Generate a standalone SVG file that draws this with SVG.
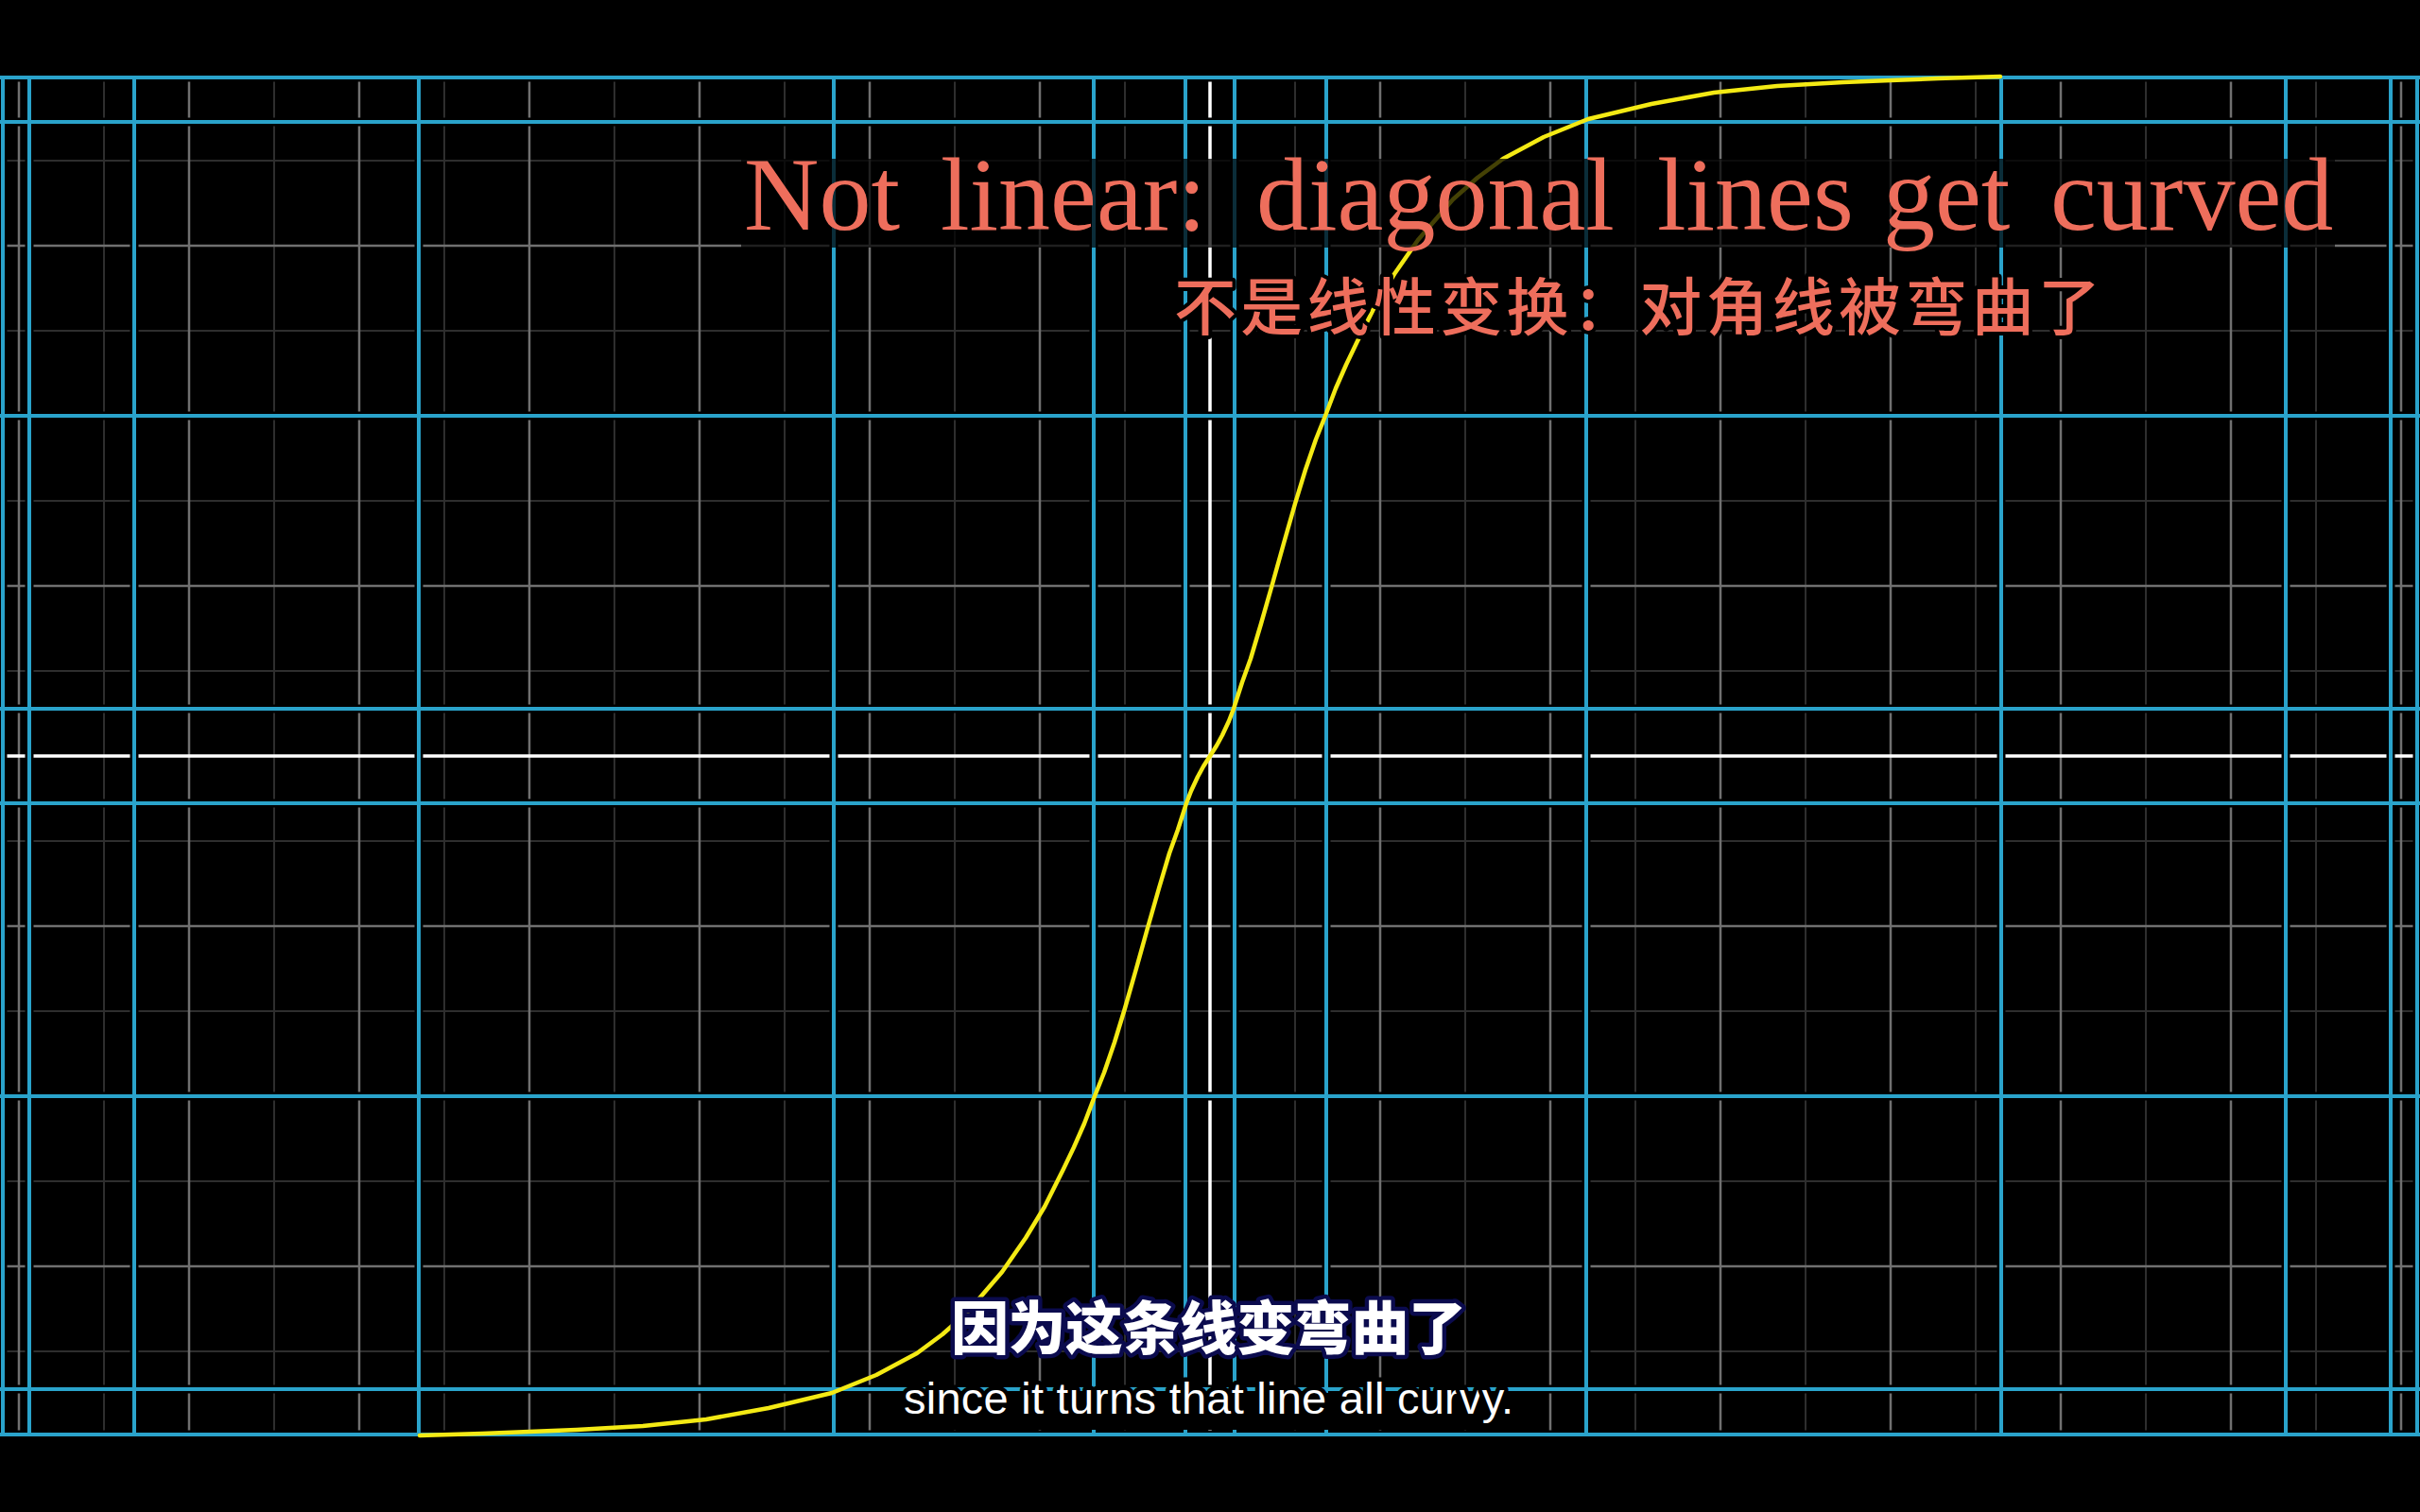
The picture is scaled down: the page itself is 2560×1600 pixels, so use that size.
<svg xmlns="http://www.w3.org/2000/svg" width="2560" height="1600" viewBox="0 0 2560 1600">
<style>
.sub{stroke:#2e2e2e;stroke-width:2;fill:none}
.main{stroke:#707070;stroke-width:2.5;fill:none}
.axis{stroke:#ffffff;stroke-width:3.5;fill:none}
.bunder{stroke:#000;stroke-width:9;fill:none}
.blue{stroke:#2aa3cb;stroke-width:4;fill:none}
.curve{stroke:#f4ea14;stroke-width:4.5;fill:none;stroke-linejoin:round;stroke-linecap:round}
.title{font-family:"Liberation Serif","Times New Roman",serif;font-size:110px;fill:#ee6e5c}
.zh{font-family:"Noto Sans CJK SC",sans-serif;font-weight:500;font-size:66px;fill:#ee6e5c;stroke:#000;stroke-width:8;paint-order:stroke;stroke-linejoin:round}
.subzh{font-family:"Noto Sans CJK SC",sans-serif;font-weight:900;font-size:61px;fill:#fff;stroke:#0b0b4e;stroke-width:9;paint-order:stroke;stroke-linejoin:round}
.suben{font-family:"Liberation Sans",Arial,sans-serif;font-size:47px;fill:#fff;stroke:#000;stroke-width:9;paint-order:stroke;stroke-linejoin:round}
</style>
<rect x="0" y="0" width="2560" height="1600" fill="#000"/>
<g id="background-grid">
<path class="sub" d="M110 80V1520M290 80V1520M470 80V1520M650 80V1520M830 80V1520M1010 80V1520M1190 80V1520M1370 80V1520M1550 80V1520M1730 80V1520M1910 80V1520M2090 80V1520M2270 80V1520M2450 80V1520M0 170H2560M0 350H2560M0 530H2560M0 710H2560M0 890H2560M0 1070H2560M0 1250H2560M0 1430H2560"/>
<path class="main" d="M20 80V1520M200 80V1520M380 80V1520M560 80V1520M740 80V1520M920 80V1520M1100 80V1520M1460 80V1520M1640 80V1520M1820 80V1520M2000 80V1520M2180 80V1520M2360 80V1520M2540 80V1520M0 260H2560M0 440H2560M0 620H2560M0 980H2560M0 1160H2560M0 1340H2560"/>
</g>
<g id="axes">
<path class="axis" d="M1280 80V1520M0 800H2560"/>
</g>
<g id="transformed-grid">
<path class="bunder" d="M3 80V1520M31 80V1520M142 80V1520M443 80V1520M882 80V1520M1157 80V1520M1254 80V1520M1306 80V1520M1403 80V1520M1678 80V1520M2117 80V1520M2418 80V1520M2529 80V1520M2557 80V1520M0 82H2560M0 129H2560M0 440H2560M0 750H2560M0 850H2560M0 1160H2560M0 1470H2560M0 1518H2560"/>
<path class="blue" d="M3 80V1520M31 80V1520M142 80V1520M443 80V1520M882 80V1520M1157 80V1520M1254 80V1520M1306 80V1520M1403 80V1520M1678 80V1520M2117 80V1520M2418 80V1520M2529 80V1520M2557 80V1520M0 82H2560M0 129H2560M0 440H2560M0 750H2560M0 850H2560M0 1160H2560M0 1470H2560M0 1518H2560"/>
</g>
<g id="curved-diagonal">
<polyline class="curve" points="444,1519 510,1517 560,1515 610,1513 680,1509 747,1502 813,1490 880,1474 927,1455 970,1432 997,1412 1023,1389 1060,1346 1085,1310 1105,1277 1125,1237 1136,1214 1147,1189 1158,1160 1168,1135 1179,1103 1190,1067 1202,1025 1214,982 1226,940 1237,903 1246,878 1255,850 1260,837 1267,822 1273,811 1280,800 1287,789 1293,778 1300,763 1305,750 1314,722 1323,697 1334,660 1346,618 1358,575 1370,533 1381,497 1392,465 1402,440 1413,411 1424,386 1435,363 1455,323 1475,290 1500,254 1537,211 1563,188 1590,168 1633,145 1680,126 1747,110 1813,98 1880,91 1950,87 2000,85 2050,83 2116,81"/>
</g>
<g id="title">
<rect x="784" y="168" width="1686" height="94" fill="#000" fill-opacity="0.72"/>
<text class="title" y="243"><tspan x="787">Not</tspan><tspan x="995">linear:</tspan><tspan x="1329">diagonal</tspan><tspan x="1753">lines</tspan><tspan x="1992">get</tspan><tspan x="2169">curved</tspan></text>
<text class="zh" x="1242" y="349" textLength="980" lengthAdjust="spacing">不是线性变换：对角线被弯曲了</text>
</g>
<g id="subtitles">
<text class="subzh" x="1006" y="1428" textLength="545" lengthAdjust="spacing">因为这条线变弯曲了</text>
<rect x="950" y="1474" width="658" height="39" fill="#000"/>
<text class="suben" x="956" y="1496" textLength="645" lengthAdjust="spacing">since it turns that line all curvy.</text>
</g>
</svg>
